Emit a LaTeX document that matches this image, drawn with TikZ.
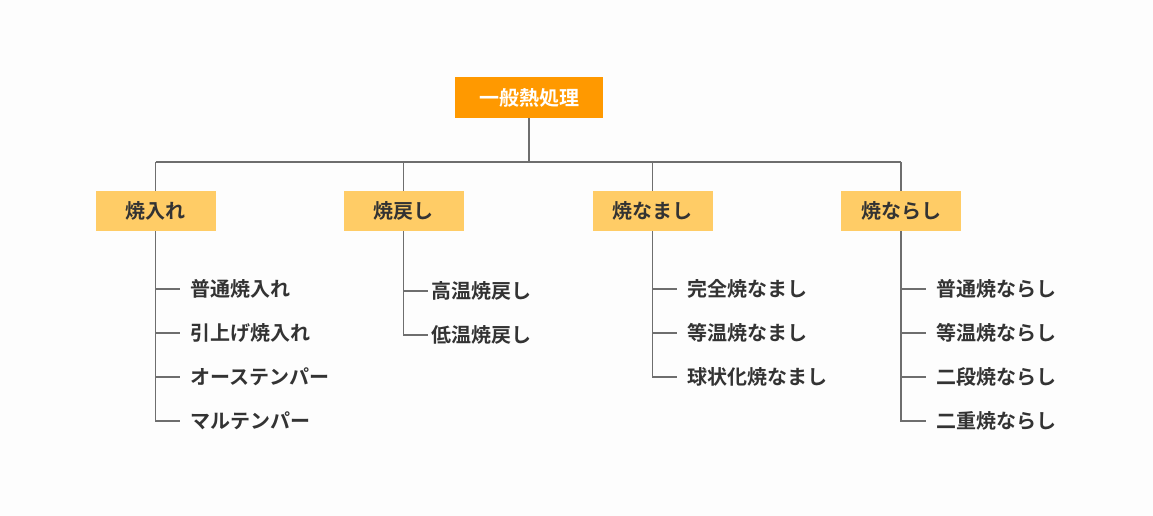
\documentclass[tikz,border=0pt]{standalone}
\usepackage{fontspec}
\setmainfont{Noto Sans CJK JP}[BoldFont={Noto Sans CJK JP Bold}]
\usepackage{tikz}
\usepackage{xcolor}
\usetikzlibrary{positioning, calc}
\definecolor{darktext}{HTML}{333333}
\definecolor{rootfill}{HTML}{FF9900}
\definecolor{groupfill}{HTML}{FFCC66}
\definecolor{linkgray}{HTML}{6E6E6E}
\definecolor{paper}{HTML}{FDFDFD}

\begin{document}
\begin{tikzpicture}[x=0.75pt, y=0.75pt,
            rootbox/.style={fill=rootfill, text=white, font=\bfseries\fontsize{15}{18}\selectfont,
                minimum width=111pt, minimum height=31pt, inner sep=0pt},
            groupbox/.style={fill=groupfill, text=darktext, font=\bfseries\fontsize{15}{18}\selectfont,
                minimum width=90pt, minimum height=30pt, inner sep=0pt},
            leaf/.style={anchor=west, text=darktext, font=\bfseries\fontsize{15}{18}\selectfont,
                inner xsep=8pt, inner ysep=0pt},
            link/.style={draw=linkgray, line width=0.8pt}]
            \fill[paper] (0,0) rectangle (1153,516);
            \useasboundingbox (0,0) rectangle (1153,516);
            % root and groups
            \node[rootbox] (root) at (529,418.5) {一般熱処理};
            \node[groupbox] (K1) at (155.5,305) {焼入れ};
            \node[groupbox] (K2) at (403.5,305) {焼戻し};
            \node[groupbox] (K3) at (652.5,305) {焼なまし};
            \node[groupbox] (K4) at (901,305) {焼ならし};
            \coordinate (bus) at (529,354);
            \draw[link] (root) -- (bus);
            \foreach \k in {K1,K2,K3,K4} {
                \draw[link] (\k.north) -- (\k.north |- bus);
            }
            \draw[link] (K1.north |- bus) -- (K4.north |- bus);
            % leaves
            \node[leaf] (L11) at (180,227) {普通焼入れ};
            \node[leaf] (L12) at (180,183) {引上げ焼入れ};
            \node[leaf] (L13) at (180,139) {オーステンパー};
            \node[leaf] (L14) at (180,95) {マルテンパー};
            \node[leaf, inner xsep=2.5pt] (L21) at (428,225) {高温焼戻し};
            \node[leaf, inner xsep=2.5pt] (L22) at (428,181) {低温焼戻し};
            \node[leaf] (L31) at (677,227) {完全焼なまし};
            \node[leaf] (L32) at (677,183) {等温焼なまし};
            \node[leaf] (L33) at (677,139) {球状化焼なまし};
            \node[leaf] (L41) at (926,227) {普通焼ならし};
            \node[leaf] (L42) at (926,183) {等温焼ならし};
            \node[leaf] (L43) at (926,139) {二段焼ならし};
            \node[leaf] (L44) at (926,95) {二重焼ならし};
            \foreach \k/\l in {K1/L11,K1/L12,K1/L13,K1/L14,K2/L21,K2/L22,
                K3/L31,K3/L32,K3/L33,K4/L41,K4/L42,K4/L43,K4/L44} {
                \draw[link] (\k.south) |- (\l.west);
            }
        \end{tikzpicture}
\end{document}
